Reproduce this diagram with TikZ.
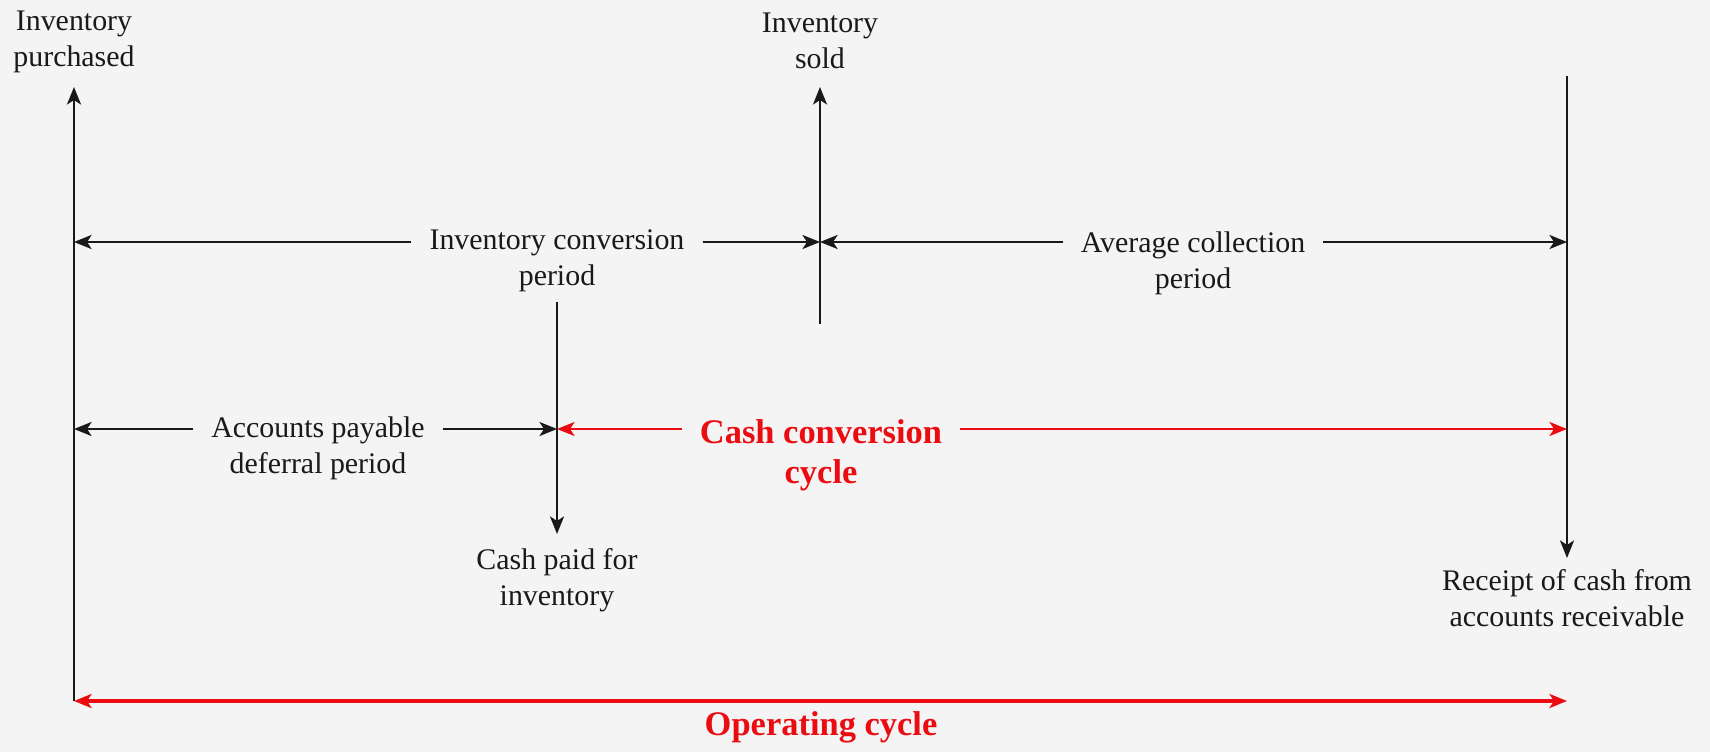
\documentclass[tikz,border=0pt]{standalone}
\usepackage{fontspec}
\setmainfont{Liberation Serif}
\usetikzlibrary{arrows.meta,positioning}
\definecolor{bggray}{RGB}{244,244,244}
\definecolor{cycred}{RGB}{235,12,18}
\definecolor{inkblack}{RGB}{25,25,25}

\begin{document}
\begin{tikzpicture}[x=0.01cm, y=-0.01cm,
    every node/.style={font=\fontsize{8.5}{10.2}\selectfont, align=center, text=inkblack},
    lbl/.style={inner sep=5pt},
    redlbl/.style={font=\fontsize{9.8}{11.4}\selectfont\bfseries, text=cycred, inner sep=5pt},
    blk/.style={draw=inkblack, line width=0.6pt, -{Stealth[length=5pt,width=4pt,inset=1.3pt]}},
    redtip/.style={draw=cycred, line width=0.6pt, -{Stealth[length=5pt,width=4pt,inset=1.3pt]}},
    redboth/.style={draw=cycred, line width=0.9pt, {Stealth[length=5pt,width=4pt,inset=1.3pt]}-{Stealth[length=5pt,width=4pt,inset=1.3pt]}}]
  % Background and frame
  \fill[bggray] (0,0) rectangle (1710,752);
  \useasboundingbox (0,0) rectangle (1710,752);

  % Time points
  \coordinate (pA) at (74,701);   \coordinate (tA) at (74,87);
  \coordinate (pB) at (820,324);  \coordinate (tB) at (820,87);
  \coordinate (pC) at (557,302);  \coordinate (tC) at (557,534);
  \coordinate (pD) at (1567,76);  \coordinate (tD) at (1567,558);

  % Event labels
  \node (purch) at (74,42) {Inventory\\purchased};
  \node (sold) at (820,41) {Inventory\\sold};
  \node (paid) at (557,580) {Cash paid for\\inventory};
  \node (rcpt) at (1567,598) {Receipt of cash from\\accounts receivable};

  % Event lines
  \draw[blk] (pA) -- (tA);
  \draw[blk] (pB) -- (tB);
  \draw[blk] (pC) -- (tC);
  \draw[blk] (pD) -- (tD);

  % Row 1: inventory conversion / average collection
  \coordinate (r1A) at (74,242);
  \coordinate (r1B) at (820,242);
  \coordinate (r1D) at (1567,242);
  \node[lbl] (icp) at (557,261) {Inventory conversion\\period};
  \node[lbl] (acp) at (1193,263) {Average collection\\period};
  \draw[blk] (icp.west |- r1A) -- (r1A);
  \draw[blk] (icp.east |- r1A) -- (r1B);
  \draw[blk] (acp.west |- r1A) -- (r1B);
  \draw[blk] (acp.east |- r1A) -- (r1D);

  % Row 2: payables deferral / cash conversion cycle
  \coordinate (r2A) at (74,429);
  \coordinate (r2C) at (557,429);
  \coordinate (r2D) at (1567,429);
  \node[lbl] (apd) at (318,448) {Accounts payable\\deferral period};
  \node[redlbl] (ccc) at (821,455) {Cash conversion\\cycle};
  \draw[blk] (apd.west |- r2A) -- (r2A);
  \draw[blk] (apd.east |- r2A) -- (r2C);
  \draw[redtip] (ccc.west |- r2A) -- (r2C);
  \draw[redtip] (ccc.east |- r2A) -- (r2D);

  % Row 3: operating cycle
  \coordinate (r3A) at (74,701);
  \coordinate (r3D) at (1567,701);
  \draw[redboth] (r3A) -- (r3D);
  \node[redlbl, below=-2.3pt of r3A -| ccc] (opc) {Operating cycle};
\end{tikzpicture}
\end{document}
